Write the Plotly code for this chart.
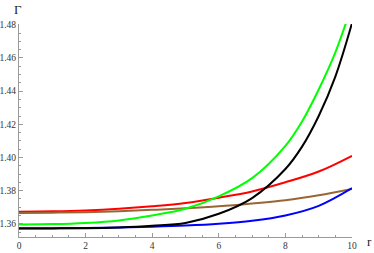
import plotly.graph_objects as go

r_vals = [0, 1, 2, 3, 4, 5, 6, 7, 8, 9, 10]
r_steep = [0, 1, 2, 3, 4, 5, 6, 7, 8, 8.5, 9, 9.5, 10]

blue = [1.3573, 1.3573, 1.3574, 1.3577, 1.3582, 1.3589, 1.3600, 1.3618, 1.3650, 1.3708, 1.3815]
red = [1.3673, 1.3675, 1.3680, 1.3690, 1.3705, 1.3725, 1.3757, 1.3795, 1.3850, 1.3915, 1.4010]
brown = [1.3665, 1.3667, 1.3670, 1.3676, 1.3684, 1.3693, 1.3705, 1.3722, 1.3742, 1.3772, 1.3810]
green = [1.3596, 1.3598, 1.3605, 1.3620, 1.3650, 1.3690, 1.3765, 1.3875, 1.4070, 1.4217, 1.4410, 1.4634, 1.4920]
black = [1.3572, 1.3572, 1.3573, 1.3578, 1.3588, 1.3605, 1.3660, 1.3755, 1.3930, 1.4065, 1.4250, 1.4488, 1.4810]

y_ticks = [1.36, 1.38, 1.40, 1.42, 1.44, 1.46, 1.48]
x_ticks = [0, 2, 4, 6, 8, 10]

series = [
    (red, r_vals, "#FF0000"),
    (brown, r_vals, "#996633"),
    (blue, r_vals, "#0000FF"),
    (black, r_steep, "#000000"),
    (green, r_steep, "#00FF00"),
]

fig = go.Figure()
for ys, xs, col in series:
    fig.add_trace(go.Scatter(x=xs, y=ys, mode="lines",
                             line=dict(color=col, width=2, shape="spline", smoothing=1.0),
                             showlegend=False, hoverinfo="skip"))

axis_col = "#9a9a9a"
font = dict(family="Liberation Serif", size=9.5, color="#333333")

ML, MR, MT, MB = 19, 22, 24, 16
W, H = 374, 253
pw = W - ML - MR
ph = H - MT - MB


def px_to_paper(px, py):
    return (px - ML) / pw, 1 - (py - MT) / ph


gx, gy = px_to_paper(18, 10)
rx, ry = px_to_paper(370, 241)

fig.update_layout(
    width=W, height=H,
    margin=dict(l=ML, r=MR, t=MT, b=MB, autoexpand=False),
    paper_bgcolor="white", plot_bgcolor="white",
    xaxis=dict(range=[0, 10], tickvals=x_ticks, ticktext=[str(v) for v in x_ticks],
               ticks="inside", ticklen=4, tickcolor=axis_col, tickwidth=1,
               minor=dict(dtick=0.5, ticks="inside", ticklen=2, tickcolor=axis_col),
               showline=True, linecolor=axis_col, linewidth=1, automargin=False,
               showgrid=False, zeroline=False, tickfont=font),
    yaxis=dict(range=[1.352, 1.4805], tickvals=y_ticks, ticktext=[f"{v:.2f}" for v in y_ticks],
               ticks="inside", ticklen=4, tickcolor=axis_col, tickwidth=1,
               minor=dict(dtick=0.005, tick0=1.36, ticks="inside", ticklen=2, tickcolor=axis_col),
               showline=True, linecolor=axis_col, linewidth=1, automargin=False,
               showgrid=False, zeroline=False, tickfont=font),
    annotations=[
        dict(text="Γ", x=gx, y=gy, xref="paper", yref="paper", showarrow=False,
             xanchor="center", yanchor="middle",
             font=dict(family="Liberation Serif", size=13, color="#222222")),
        dict(text="r", x=rx, y=ry, xref="paper", yref="paper", showarrow=False,
             xanchor="center", yanchor="middle",
             font=dict(family="Liberation Serif", size=13, color="#222222")),
    ],
)

fig.write_html("out.html", config={"displayModeBar": False},
               post_script="document.body.style.margin='0';document.body.style.padding='0';")
